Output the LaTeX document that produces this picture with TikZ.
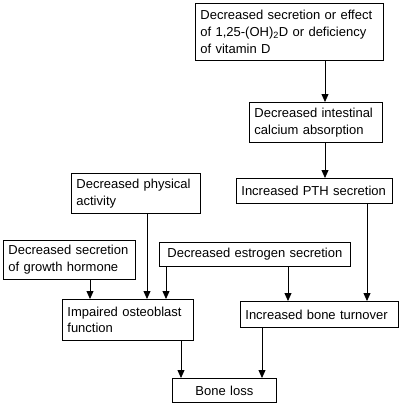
\documentclass[tikz,border=0pt]{standalone}
\usepackage{fontspec}
\setmainfont{Liberation Sans}
\usetikzlibrary{arrows.meta}
\begin{document}
\fontsize{13}{16.6}\selectfont
\begin{tikzpicture}[x=1pt,y=-1pt,
  box/.style={draw, line width=0.8pt, anchor=north west, align=left, inner xsep=5pt, inner ysep=0pt,
    font=\fontsize{13}{16.6}\selectfont},
  arr/.style={line width=0.8pt, -{Triangle[width=7pt,length=8pt]}}]
\useasboundingbox (0,0) rectangle (400,405);
\node[box, text width=178pt, minimum height=57pt] (vit) at (195,3) {\fontsize{13}{16.6}\selectfont Decreased secretion or effect\\of 1,25-(OH)\textsubscript{2}D or deficiency\\of vitamin D};
\node[box, text width=123pt, minimum height=40pt] (int) at (249,102) {\fontsize{13}{16.6}\selectfont Decreased intestinal\\calcium absorption};
\node[box, text width=146pt, minimum height=25pt] (pth) at (236,178) {\fontsize{13}{16.6}\selectfont Increased PTH secretion};
\node[box, text width=119pt, minimum height=40pt] (phys) at (71,173) {\fontsize{13}{16.6}\selectfont Decreased physical\\activity};
\node[box, text width=122pt, minimum height=39pt] (gh) at (3,240) {\fontsize{13}{16.6}\selectfont Decreased secretion\\of growth hormone};
\node[box, text width=181pt, minimum height=24pt, align=center] (est) at (159,242) {\fontsize{13}{16.6}\selectfont Decreased estrogen secretion};
\node[box, text width=121pt, minimum height=41pt] (ost) at (62,299) {\fontsize{13}{16.6}\selectfont Impaired osteoblast\\function};
\node[box, text width=148pt, minimum height=26pt] (turn) at (240,301) {\fontsize{13}{16.6}\selectfont Increased bone turnover};
\node[box, text width=94pt, minimum height=24pt, align=center] (loss) at (172,378) {\fontsize{13}{16.6}\selectfont Bone loss};
\coordinate (xa) at (325,0);
\coordinate (xb) at (367,0);
\coordinate (xc) at (147,0);
\coordinate (xd) at (90,0);
\coordinate (xe) at (166,0);
\coordinate (xf) at (288,0);
\coordinate (xg) at (181,0);
\coordinate (xh) at (262,0);
\draw[arr] (vit.south -| xa) -- (int.north -| xa);
\draw[arr] (int.south -| xa) -- (pth.north -| xa);
\draw[arr] (pth.south -| xb) -- (turn.north -| xb);
\draw[arr] (phys.south -| xc) -- (ost.north -| xc);
\draw[arr] (gh.south -| xd) -- (ost.north -| xd);
\draw[arr] (est.south -| xe) -- (ost.north -| xe);
\draw[arr] (est.south -| xf) -- (turn.north -| xf);
\draw[arr] (ost.south -| xg) -- (loss.north -| xg);
\draw[arr] (turn.south -| xh) -- (loss.north -| xh);
\end{tikzpicture}
\end{document}
